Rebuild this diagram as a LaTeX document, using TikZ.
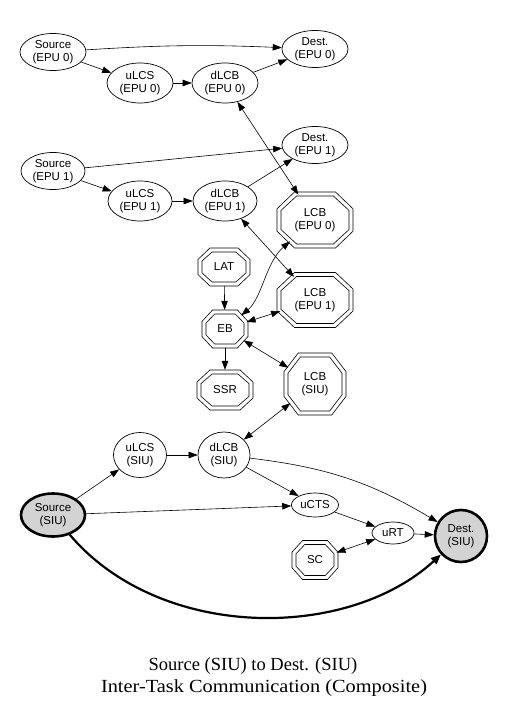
\documentclass[tikz,border=0pt]{standalone}
\usepackage{fontspec}
\setmainfont{Liberation Serif}
\newfontfamily\arialfont{Liberation Sans}
\usetikzlibrary{shapes.geometric,arrows.meta}
\newcommand\myoct[4]{%
  \draw[octline] ({#1-0.27*(#3)},{#2-0.5*(#4)}) -- ({#1+0.27*(#3)},{#2-0.5*(#4)})
    -- ({#1+0.5*(#3)},{#2-0.2*(#4)}) -- ({#1+0.5*(#3)},{#2+0.2*(#4)})
    -- ({#1+0.27*(#3)},{#2+0.5*(#4)}) -- ({#1-0.27*(#3)},{#2+0.5*(#4)})
    -- ({#1-0.5*(#3)},{#2+0.2*(#4)}) -- ({#1-0.5*(#3)},{#2-0.2*(#4)}) -- cycle;}
\newcommand\dococt[6]{%
  \node[octn, minimum width=#4pt, minimum height=#5pt] (#1) at (#2,#3) {#6};
  \myoct{#2}{#3}{#4}{#5}
  \myoct{#2}{#3}{#4-8}{#5-8}}
\tikzset{
  nfont/.style={font=\arialfont\fontsize{11.5}{13}\selectfont},
  ell/.style={ellipse, draw, line width=0.7pt, inner sep=0pt, align=center, nfont},
  hot/.style={ell, line width=2.6pt, fill={rgb,255:red,211;green,211;blue,211}},
  octn/.style={ellipse, inner sep=0pt, align=center, nfont},
  octline/.style={draw, line width=0.6pt},
  arr/.style={line width=0.6pt, -{Triangle[length=9pt,width=6.5pt]}},
  darr/.style={line width=0.6pt, {Triangle[length=9pt,width=6.5pt]}-{Triangle[length=9pt,width=6.5pt]}},
  thickarr/.style={line width=2.2pt, -{Triangle[length=10pt,width=8pt]}},
}
\begin{document}
\begin{tikzpicture}[x=1pt,y=-1pt]
\fill[white] (0,0) rectangle (505,708);
\useasboundingbox (0,0) rectangle (505,708);
% EPU 0 row
\node[ell, minimum width=66pt, minimum height=37pt] (s0) at (53,52) {Source\\(EPU 0)};
\node[ell, minimum width=66pt, minimum height=37pt] (d0) at (315,49) {Dest.\\(EPU 0)};
\node[ell, minimum width=66pt, minimum height=40pt] (u0) at (140,83) {uLCS\\(EPU 0)};
\node[ell, minimum width=66pt, minimum height=40pt] (l0) at (225,83) {dLCB\\(EPU 0)};
% EPU 1 row
\node[ell, minimum width=64pt, minimum height=37pt] (s1) at (53,171) {Source\\(EPU 1)};
\node[ell, minimum width=66pt, minimum height=37pt] (d1) at (315,145) {Dest.\\(EPU 1)};
\node[ell, minimum width=64pt, minimum height=40pt] (u1) at (140,201) {uLCS\\(EPU 1)};
\node[ell, minimum width=64pt, minimum height=40pt] (l1) at (225,201) {dLCB\\(EPU 1)};
% octagons
\dococt{c0}{315}{220}{76}{56}{LCB\\(EPU 0)}
\dococt{c1}{315}{300}{76}{55}{LCB\\(EPU 1)}
\dococt{cs}{315}{384}{62}{62}{LCB\\(SIU)}
\dococt{lat}{224}{267}{52}{38}{LAT}
\dococt{eb}{225}{329}{46}{38}{EB}
\dococt{ssr}{225}{390}{56}{40}{SSR}
\dococt{sc}{315}{560}{46}{39}{SC}
% SIU row
\node[ell, minimum width=53pt, minimum height=45pt] (us) at (140,455) {uLCS\\(SIU)};
\node[ell, minimum width=52pt, minimum height=46pt] (ls) at (224,455) {dLCB\\(SIU)};
\node[hot, minimum width=64pt, minimum height=43pt] (ss) at (53,515) {Source\\(SIU)};
\node[ell, minimum width=47pt, minimum height=24pt] (ucts) at (315,505) {uCTS};
\node[ell, minimum width=42pt, minimum height=22pt] (urt) at (393,533) {uRT};
\node[hot, minimum width=52pt, minimum height=52pt] (ds) at (461,536) {Dest.\\(SIU)};
% edges
\draw[arr] (s0) to[bend left=3] (d0);
\draw[arr] (s0) -- (u0);
\draw[arr] (u0) -- (l0);
\draw[arr] (l0) -- (d0);
\draw[darr] (l0) -- (c0);
\draw[arr] (s1) -- (d1);
\draw[arr] (s1) -- (u1);
\draw[arr] (u1) -- (l1);
\draw[arr] (l1) -- (d1);
\draw[darr] (l1) -- (c1);
\draw[arr] (lat) -- (eb);
\draw[arr] (eb) -- (ssr);
\draw[darr] (eb) .. controls (262,298) and (266,262) .. (c0);
\draw[darr] (eb) -- (c1);
\draw[darr] (eb) -- (cs);
\draw[darr] (ls) -- (cs);
\draw[arr] (ss) -- (us);
\draw[arr] (us) -- (ls);
\draw[arr] (ls) -- (ucts);
\draw[arr] (ls) to[bend left=12] (ds);
\draw[arr] (ss) -- (ucts);
\draw[arr] (ucts) -- (urt);
\draw[arr] (urt) -- (ds);
\draw[darr] (sc) -- (urt);
\draw[thickarr] (ss) .. controls (160,641) and (347,641) .. (ds);
% title
\node[font=\fontsize{18.5}{22}\selectfont, align=center] (title) at (264,677) {Source (SIU) to Dest. (SIU)\kern22pt\\\scalebox{1.1}[1]{Inter-Task Communication (Composite)}};
\end{tikzpicture}
\end{document}
